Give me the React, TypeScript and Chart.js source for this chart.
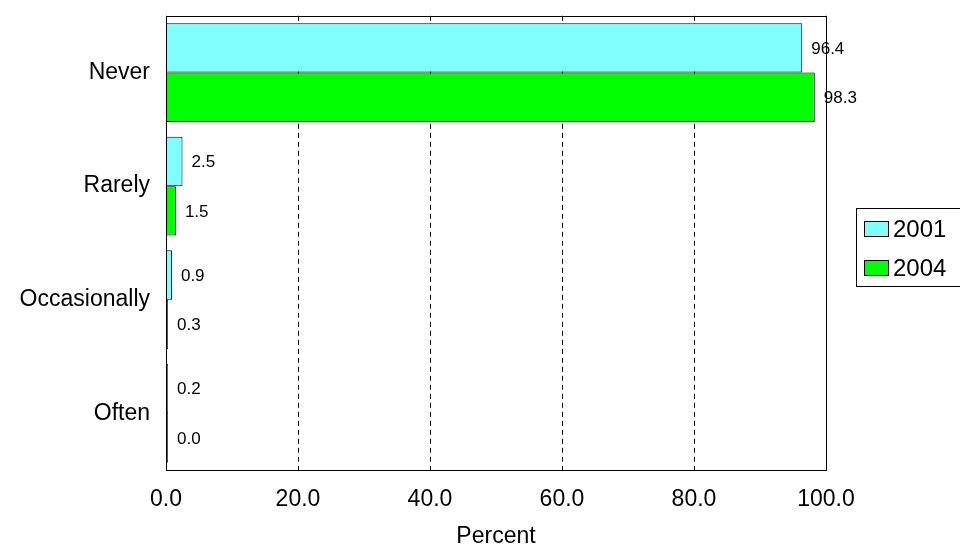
import { Chart, registerables } from 'chart.js';
import { useEffect, useRef } from 'react';

Chart.register(...registerables);

const categories = ['Never', 'Rarely', 'Occasionally', 'Often'];
const series2001 = [96.4, 2.5, 0.9, 0.2];
const series2004 = [98.3, 1.5, 0.3, 0.0];
const xTicks = [0, 20, 40, 60, 80, 100];

const frameAndLabels = {
	id: 'frameAndLabels',
	afterDatasetsDraw(chart: Chart) {
		const { ctx, chartArea } = chart;
		ctx.save();
		ctx.font = '17px "Liberation Sans", Arial, sans-serif';
		ctx.fillStyle = '#000';
		ctx.textBaseline = 'middle';
		ctx.textAlign = 'left';
		chart.data.datasets.forEach((ds, di) => {
			chart.getDatasetMeta(di).data.forEach((bar: any, i) => {
				const v = ds.data[i] as number;
				ctx.fillText(v.toFixed(1), bar.x + 9, bar.y + 1);
			});
		});
		ctx.strokeStyle = '#000';
		ctx.lineWidth = 1;
		ctx.setLineDash([]);
		ctx.strokeRect(
			Math.round(chartArea.left) + 0.5,
			Math.round(chartArea.top) + 0.5,
			Math.round(chartArea.right - chartArea.left),
			Math.round(chartArea.bottom - chartArea.top)
		);
		ctx.restore();
	},
};

export default function App() {
	const canvasRef = useRef<HTMLCanvasElement | null>(null);
	const chartRef = useRef<Chart | null>(null);

	useEffect(() => {
		if (!canvasRef.current) return;
		document.body.style.margin = '0';
		document.body.style.overflow = 'hidden';
		const font = '"Liberation Sans", Arial, sans-serif';
		chartRef.current = new Chart(canvasRef.current, {
			type: 'bar',
			data: {
				labels: categories,
				datasets: [
					{
						label: '2001',
						data: series2001,
						backgroundColor: '#80FFFF',
						borderColor: '#000',
						borderWidth: 1,
						minBarLength: 2,
						categoryPercentage: 0.87,
						barPercentage: 1,
					},
					{
						label: '2004',
						data: series2004,
						backgroundColor: '#00FF00',
						borderColor: '#000',
						borderWidth: 1,
						minBarLength: 2,
						categoryPercentage: 0.87,
						barPercentage: 1,
					},
				],
			},
			options: {
				indexAxis: 'y',
				animation: false,
				responsive: false,
				layout: { padding: { left: 6, right: 134, top: 4, bottom: 0 } },
				scales: {
					x: {
						min: 0,
						max: 100,
						afterBuildTicks: (s: any) => {
							s.ticks = xTicks.map((v) => ({ value: v }));
						},
						afterFit: (s: any) => {
							s.height = 82;
						},
						ticks: {
							color: '#000',
							font: { family: font, size: 23 },
							padding: 16,
							callback: (v: any) => Number(v).toFixed(1),
						},
						grid: { color: '#000', drawTicks: false },
						border: { display: false, dash: [5, 4] },
						title: {
							display: true,
							text: 'Percent',
							color: '#000',
							font: { family: font, size: 23 },
							padding: { top: 0, bottom: 2 },
						},
					},
					y: {
						afterFit: (s: any) => {
							s.width = 160;
						},
						ticks: {
							color: '#000',
							font: { family: font, size: 23 },
							padding: 8,
						},
						grid: { display: false },
						border: { display: false },
					},
				},
				plugins: {
					legend: { display: false },
					tooltip: { enabled: false },
				},
			},
			plugins: [frameAndLabels],
		});
		return () => {
			chartRef.current?.destroy();
			chartRef.current = null;
		};
	}, []);

	const item = (color: string, text: string) => (
		<div style={{ display: 'flex', alignItems: 'center', height: 39 }}>
			<span
				style={{
					display: 'inline-block',
					width: 23,
					height: 14,
					background: color,
					border: '1px solid #000',
					marginRight: 4,
				}}
			/>
			{text}
		</div>
	);

	return (
		<div style={{ position: 'relative', width: 960, height: 552, overflow: 'hidden' }}>
			<canvas
				ref={canvasRef}
				width={960}
				height={558}
				style={{ position: 'absolute', left: 0, top: -6 }}></canvas>
			<div
				style={{
					position: 'absolute',
					left: 856,
					top: 208,
					width: 120,
					height: 77,
					border: '1px solid #000',
					fontFamily: '"Liberation Sans", Arial, sans-serif',
					fontSize: 24,
					padding: '0 0 0 7px',
				}}>
				{item('#80FFFF', '2001')}
				{item('#00FF00', '2004')}
			</div>
		</div>
	);
}
